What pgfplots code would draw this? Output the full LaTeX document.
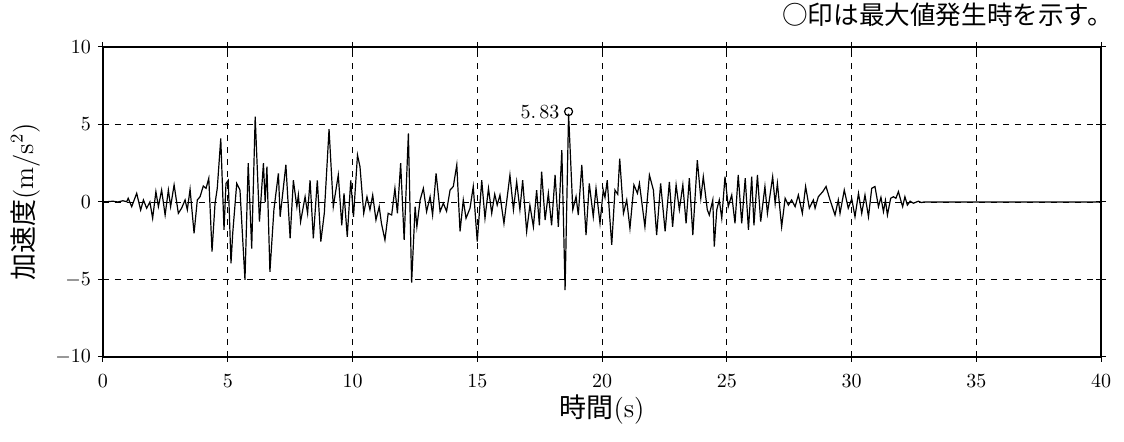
\documentclass[border=0pt]{standalone}
\usepackage{fontspec}
\usepackage{pgfplots}
\pgfplotsset{compat=1.18}
\newfontfamily\jp{Noto Sans CJK JP}
\begin{document}
\begin{tikzpicture}
\begin{axis}[
  name=ax,
  scale only axis,
  width=499pt, height=155pt,
  xmin=0, xmax=40, ymin=-10, ymax=10,
  xtick={0,5,...,40}, ytick={-10,-5,0,5,10},
  grid=major,
  major grid style={black, dashed, line width=0.4pt},
  axis line style={black, line width=0.6pt},
  tick align=center,
  major tick length=5pt,
  tick style={black, line width=0.5pt},
  xticklabel style={yshift=-3pt},
  xlabel={{\jp 時間}(s)},
  ylabel={{\jp 加速度}(m/s$^2$)},
  xlabel style={at={(axis description cs:0.5,-0.17)}, anchor=center, font=\fontsize{13.5}{15}\selectfont},
  ylabel style={at={(axis description cs:-0.078,0.5)}, anchor=center, font=\fontsize{13.5}{15}\selectfont},
  clip=false,
]
\addplot[black, line width=0.6pt] coordinates {
(0,0) (0.4,0.05) (0.6,0.0) (0.8,0.08) (0.95,0.02) (1.01,0.24) (1.15,-0.3) (1.35,0.56) (1.51,-0.52) (1.62,0.13) (1.75,-0.4) (1.88,0.0) (1.99,-1.05) (2.12,0.67) (2.22,-0.3) (2.35,0.77) (2.49,-0.84) (2.62,0.77) (2.71,-0.3) (2.85,1.1) (3.02,-0.73) (3.15,-0.4) (3.29,0.13) (3.38,-0.5) (3.49,0.82) (3.65,-2.02) (3.78,0.13) (3.89,0.34) (4.02,1.03) (4.13,0.88) (4.24,1.53) (4.37,-3.2) (4.49,-0.1) (4.58,0.88) (4.72,4.1) (4.85,-1.8) (4.93,1.2) (5.02,1.4) (5.13,-3.96) (5.2,-2.0) (5.36,1.2) (5.49,0.77) (5.69,-5.03) (5.82,2.5) (5.96,-3.0) (6.1,5.5) (6.27,-1.27) (6.43,2.5) (6.5,0.0) (6.57,2.28) (6.69,-4.5) (6.85,-0.5) (7.03,1.85) (7.1,-0.95) (7.33,2.4) (7.5,-2.34) (7.63,1.4) (7.77,-0.3) (7.83,0.45) (7.92,-1.27) (8.1,0.34) (8.2,-0.73) (8.3,1.4) (8.43,-2.34) (8.59,1.4) (8.73,-2.56) (8.87,-0.73) (9.06,4.7) (9.23,-0.3) (9.43,1.74) (9.57,-1.5) (9.66,0.56) (9.79,-2.24) (9.93,1.4) (10.04,-0.95) (10.2,3.03) (10.3,2.28) (10.45,-0.73) (10.58,0.34) (10.7,-0.5) (10.81,0.45) (10.94,-1.16) (11.07,-0.3) (11.16,-1.38) (11.3,-2.45) (11.43,-0.73) (11.57,-0.84) (11.7,0.88) (11.8,-0.73) (11.93,2.5) (12.07,-2.45) (12.24,4.43) (12.37,-5.2) (12.51,-0.3) (12.58,-1.6) (12.71,0.13) (12.84,0.88) (12.97,-0.62) (13.11,0.34) (13.21,-0.84) (13.35,1.85) (13.51,-0.62) (13.64,-0.08) (13.77,-0.6) (13.91,0.77) (14.04,1.0) (14.18,2.4) (14.31,-1.9) (14.44,0.13) (14.55,-1.05) (14.71,-0.4) (14.84,1.0) (15.0,-2.56) (15.18,1.4) (15.31,-1.05) (15.45,0.88) (15.58,-0.73) (15.7,0.5) (15.8,-0.2) (15.91,0.45) (16.07,-1.38) (16.31,1.74) (16.45,-0.5) (16.58,1.3) (16.71,-0.5) (16.82,1.4) (16.98,-1.9) (17.11,-0.2) (17.25,-1.6) (17.38,0.77) (17.49,-1.5) (17.58,1.96) (17.72,-1.16) (17.85,0.56) (17.98,-1.5) (18.12,1.74) (18.25,-1.6) (18.39,3.35) (18.52,-5.68) (18.66,5.7) (18.83,-0.5) (18.96,0.34) (19.05,-0.84) (19.19,2.4) (19.36,-2.13) (19.49,1.2) (19.65,-0.95) (19.76,0.88) (19.92,-1.38) (20.05,0.77) (20.12,0.3) (20.21,1.4) (20.29,-0.5) (20.39,-2.77) (20.52,0.77) (20.63,0.5) (20.71,2.8) (20.86,-0.73) (20.99,0.13) (21.12,-1.7) (21.28,1.1) (21.42,0.56) (21.5,1.2) (21.72,-1.6) (21.9,1.74) (22.06,0.77) (22.19,-2.13) (22.35,1.2) (22.53,-1.9) (22.7,1.3) (22.83,-1.6) (22.97,1.1) (23.1,-0.5) (23.24,1.1) (23.37,-1.38) (23.5,1.53) (23.64,-2.13) (23.82,2.7) (23.96,0.24) (24.06,1.63) (24.22,-0.5) (24.3,-0.84) (24.44,0.13) (24.5,-2.88) (24.6,-0.5) (24.7,0.13) (24.8,-1.05) (24.93,1.63) (25.06,-0.3) (25.2,0.45) (25.33,-1.38) (25.46,1.74) (25.6,-1.38) (25.74,1.53) (25.87,-1.8) (26.0,1.63) (26.09,-1.5) (26.23,1.74) (26.36,-1.27) (26.53,1.0) (26.63,-0.73) (26.84,1.63) (26.94,-0.1) (27.03,1.2) (27.2,-1.6) (27.34,0.24) (27.47,-0.2) (27.6,0.13) (27.74,-0.3) (27.87,0.45) (28.03,-0.73) (28.16,1.0) (28.31,-0.4) (28.47,0.13) (28.54,-0.4) (28.67,0.34) (28.85,0.67) (28.98,1.0) (29.14,0.13) (29.34,-0.84) (29.47,0.13) (29.54,-0.73) (29.71,0.77) (29.87,-0.4) (30.01,0.2) (30.14,-0.95) (30.28,0.56) (30.41,-0.73) (30.54,0.45) (30.68,-0.95) (30.81,0.88) (30.94,1.0) (31.08,-0.3) (31.18,0.3) (31.28,-0.62) (31.36,0.1) (31.44,-0.84) (31.57,0.24) (31.68,0.34) (31.78,0.24) (31.88,0.67) (31.97,0.13) (32.05,-0.3) (32.14,0.34) (32.24,-0.2) (32.35,0.05) (32.48,-0.08) (32.68,0.05) (32.81,-0.04) (32.9,0) (40,0)
};
\addplot[only marks, mark=o, mark size=2pt, black, mark options={line width=0.6pt}] coordinates {(18.66,5.83)} node[left, xshift=-1pt] {5.\,83};
\node[anchor=east, inner sep=0pt, xshift=6pt, font=\jp\fontsize{12.8}{14}\selectfont] at (axis description cs:1,1.103) {○印は最大値発生時を示す。};
\end{axis}
\pgfresetboundingbox
\path[use as bounding box] ([xshift=-51.5pt,yshift=-42.5pt]ax.south west) rectangle ([xshift=11.5pt,yshift=23.5pt]ax.north east);
\end{tikzpicture}
\end{document}
